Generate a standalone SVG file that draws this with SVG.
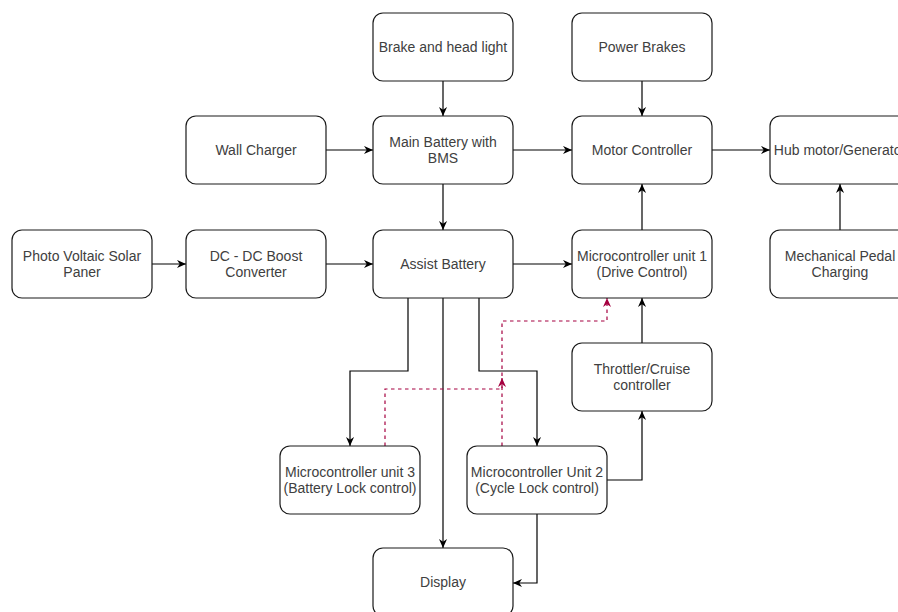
<svg xmlns="http://www.w3.org/2000/svg" width="898" height="612" viewBox="0 0 898 612">
<style>
.n rect{fill:#fff;stroke:#1a1a1a;stroke-width:1.2}
.n text{font-family:"Liberation Sans",Arial,sans-serif;font-size:14px;fill:#404040;text-anchor:middle}
.e path{fill:none;stroke:#000;stroke-width:1.2}
.e path.d{stroke:#A50040;stroke-dasharray:3.5 3.5}
</style>
<defs>
<marker id="a" viewBox="0 0 10 10" refX="10" refY="5" markerWidth="9" markerHeight="9" markerUnits="userSpaceOnUse" orient="auto"><path d="M0,0.5 L10,5 L0,9.5 L3,5 z" fill="#000"/></marker>
<marker id="r" viewBox="0 0 10 10" refX="10" refY="5" markerWidth="9" markerHeight="9" markerUnits="userSpaceOnUse" orient="auto"><path d="M0,0.5 L10,5 L0,9.5 L3,5 z" fill="#A50040"/></marker>
</defs>
<g id="edges" class="e">
<path d="M443,81 V116" marker-end="url(#a)"/>
<path d="M642,81 V116" marker-end="url(#a)"/>
<path d="M326,150 H373" marker-end="url(#a)"/>
<path d="M513,150 H572" marker-end="url(#a)"/>
<path d="M712,150 H770" marker-end="url(#a)"/>
<path d="M840,230 V184" marker-end="url(#a)"/>
<path d="M443,184 V230" marker-end="url(#a)"/>
<path d="M152,264 H186" marker-end="url(#a)"/>
<path d="M326,264 H373" marker-end="url(#a)"/>
<path d="M513,264 H572" marker-end="url(#a)"/>
<path d="M642,230 V184" marker-end="url(#a)"/>
<path d="M642,343 V298" marker-end="url(#a)"/>
<path d="M408,298 V371 H350 V446" marker-end="url(#a)"/>
<path d="M443,298 V548" marker-end="url(#a)"/>
<path d="M479,298 V371 H537 V446" marker-end="url(#a)"/>
<path d="M607,480 H642 V411" marker-end="url(#a)"/>
<path d="M537,514 V583 H513" marker-end="url(#a)"/>
<path class="d" d="M385,446 V389 H502 V378" marker-end="url(#r)"/>
<path class="d" d="M502,446 V321 H607 V298" marker-end="url(#r)"/>
</g>
<g id="brake" class="n"><rect x="373" y="13" width="140" height="68" rx="10"/><text x="443" y="52">Brake and head light</text></g>
<g id="powerbrakes" class="n"><rect x="572" y="13" width="140" height="68" rx="10"/><text x="642" y="52">Power Brakes</text></g>
<g id="wallcharger" class="n"><rect x="186" y="116" width="140" height="68" rx="10"/><text x="256" y="155">Wall Charger</text></g>
<g id="mainbattery" class="n"><rect x="373" y="116" width="140" height="68" rx="10"/><text x="443" y="146.5">Main Battery with</text><text x="443" y="163">BMS</text></g>
<g id="motorcontroller" class="n"><rect x="572" y="116" width="140" height="68" rx="10"/><text x="642" y="155">Motor Controller</text></g>
<g id="hubmotor" class="n"><rect x="770" y="116" width="140" height="68" rx="10"/><text x="840" y="155">Hub motor/Generator</text></g>
<g id="pv" class="n"><rect x="12" y="230" width="140" height="68" rx="10"/><text x="82" y="260.5">Photo Voltaic Solar</text><text x="82" y="277">Paner</text></g>
<g id="dcdc" class="n"><rect x="186" y="230" width="140" height="68" rx="10"/><text x="256" y="260.5">DC - DC Boost</text><text x="256" y="277">Converter</text></g>
<g id="assist" class="n"><rect x="373" y="230" width="140" height="68" rx="10"/><text x="443" y="269">Assist Battery</text></g>
<g id="mcu1" class="n"><rect x="572" y="230" width="140" height="68" rx="10"/><text x="642" y="260.5">Microcontroller unit 1</text><text x="642" y="277">(Drive Control)</text></g>
<g id="pedal" class="n"><rect x="770" y="230" width="140" height="68" rx="10"/><text x="840" y="260.5">Mechanical Pedal</text><text x="840" y="277">Charging</text></g>
<g id="throttle" class="n"><rect x="572" y="343" width="140" height="68" rx="10"/><text x="642" y="373.5">Throttler/Cruise</text><text x="642" y="390">controller</text></g>
<g id="mcu3" class="n"><rect x="280" y="446" width="140" height="68" rx="10"/><text x="350" y="476.5">Microcontroller unit 3</text><text x="350" y="493">(Battery Lock control)</text></g>
<g id="mcu2" class="n"><rect x="467" y="446" width="140" height="68" rx="10"/><text x="537" y="476.5">Microcontroller Unit 2</text><text x="537" y="493">(Cycle Lock control)</text></g>
<g id="display" class="n"><rect x="373" y="548" width="140" height="68" rx="10"/><text x="443" y="587">Display</text></g>
</svg>
